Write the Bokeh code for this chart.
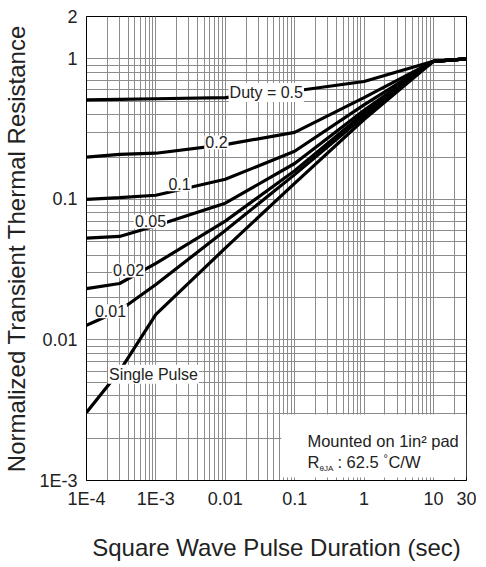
from bokeh.plotting import figure
from bokeh.models import FixedTicker, Range1d, BoxAnnotation, Label
from bokeh.embed import file_html
from bokeh.resources import INLINE

# ---------------- data ----------------
pulse_time = [1e-4, 3e-4, 1e-3, 1e-2, 1e-1, 1, 10, 30]
r_duty_05 = [0.51, 0.515, 0.52, 0.53, 0.59, 0.69, 0.96, 1.0]
r_duty_02 = [0.20, 0.209, 0.213, 0.245, 0.30, 0.53, 0.96, 1.0]
r_duty_01 = [0.10, 0.103, 0.107, 0.139, 0.22, 0.47, 0.96, 1.0]
r_duty_005 = [0.053, 0.0545, 0.065, 0.094, 0.18, 0.43, 0.96, 1.0]
r_duty_002 = [0.0232, 0.0252, 0.035, 0.07, 0.16, 0.41, 0.96, 1.0]
r_duty_001 = [0.0127, 0.0162, 0.0248, 0.06, 0.15, 0.39, 0.96, 1.0]
r_single = [0.00305, 0.006, 0.0152, 0.045, 0.13, 0.37, 0.96, 1.0]

series = [r_duty_05, r_duty_02, r_duty_01, r_duty_005, r_duty_002, r_duty_001, r_single]
curve_labels = ["Duty = 0.5", "0.2", "0.1", "0.05", "0.02", "0.01", "Single Pulse"]

x_ticks = [1e-4, 1e-3, 1e-2, 1e-1, 1, 10, 30]
x_tick_labels = ["1E-4", "1E-3", "0.01", "0.1", "1", "10", "30"]
y_ticks = [1e-3, 1e-2, 1e-1, 1, 2]
y_tick_labels = ["1E-3", "0.01", "0.1", "1", "2"]

FONT = "Liberation Sans"

x_minor = [k * 10.0 ** d for d in range(-4, 1) for k in range(2, 10)] + [20]
y_minor = [k * 10.0 ** d for d in range(-3, 0) for k in range(2, 10)]

p = figure(x_axis_type="log", y_axis_type="log",
           x_range=Range1d(1e-4, 30), y_range=Range1d(1e-3, 2),
           frame_width=380, frame_height=464,
           min_border_left=80, min_border_right=10, min_border_top=16, min_border_bottom=71,
           output_backend="svg", toolbar_location=None)

p.xaxis.ticker = FixedTicker(ticks=x_ticks, minor_ticks=x_minor)
p.yaxis.ticker = FixedTicker(ticks=y_ticks, minor_ticks=y_minor)
p.xaxis.major_label_overrides = {t: s for t, s in zip(x_ticks, x_tick_labels)}
p.yaxis.major_label_overrides = {t: s for t, s in zip(y_ticks, y_tick_labels)}

for ax in (p.xaxis, p.yaxis):
    ax.major_tick_out = 0
    ax.major_tick_in = 0
    ax.minor_tick_out = 0
    ax.minor_tick_in = 0
    ax.axis_line_color = "black"
    ax.major_label_text_font = FONT
    ax.major_label_text_font_size = "18px"
    ax.major_label_text_color = "#222222"
    ax.axis_label_text_font = FONT
    ax.axis_label_text_font_size = "24px"
    ax.axis_label_text_font_style = "normal"
    ax.axis_label_text_color = "#222222"

p.xaxis.axis_label = "Square Wave Pulse Duration (sec)"
p.yaxis.axis_label = "Normalized Transient Thermal Resistance"
p.xaxis.major_label_standoff = 8
p.yaxis.major_label_standoff = 9
p.xaxis.axis_label_standoff = 22
p.yaxis.axis_label_standoff = 6

for g in (p.xgrid, p.ygrid):
    g.grid_line_color = "#8c8c8c"
    g.grid_line_width = 1
    g.minor_grid_line_color = "#8c8c8c"
    g.minor_grid_line_width = 1

p.outline_line_color = "black"
p.outline_line_width = 1
p.background_fill_color = "white"
p.border_fill_color = "white"

for ys in series:
    p.line(pulse_time, ys, line_color="black", line_width=3.2)

# curve labels (white boxes over curves)
label_pos = [(0.039, 0.575), (0.00746, 0.254), (0.00219, 0.128), (0.000836, 0.0697),
             (0.000403, 0.0312), (0.000222, 0.0160), (0.000923, 0.00569)]
for (lx, ly), txt in zip(label_pos, curve_labels):
    p.add_layout(Label(x=lx, y=ly, text=txt, text_align="center", text_baseline="middle",
                       text_font=FONT, text_font_size="16px", text_color="#222222",
                       background_fill_color="white", background_fill_alpha=1.0, padding=1))

# note box
p.add_layout(BoxAnnotation(left=0.0646, right=30, bottom=0.00105, top=0.00295,
                           fill_color="white", fill_alpha=1.0, line_color=None))
nx = 0.1529
y1 = 0.0019
y2 = 0.001345
def note(text, dx, dy, y, size="16.5px"):
    p.add_layout(Label(x=nx, y=y, x_offset=dx, y_offset=dy, text=text, text_align="left",
                       text_baseline="middle", text_font=FONT, text_font_size=size,
                       text_color="#222222"))
note("Mounted on 1in\u00b2 pad", 0, 0, y1)
note("R", 0, 0, y2)
note("\u03b8JA", 12, -6, y2, "8px")
note(": 62.5", 30, 0, y2)
note("\u00b0", 76, 4, y2, "11px")
note("C/W", 81, 0, y2)

open("out.html", "w").write(file_html(p, INLINE))
